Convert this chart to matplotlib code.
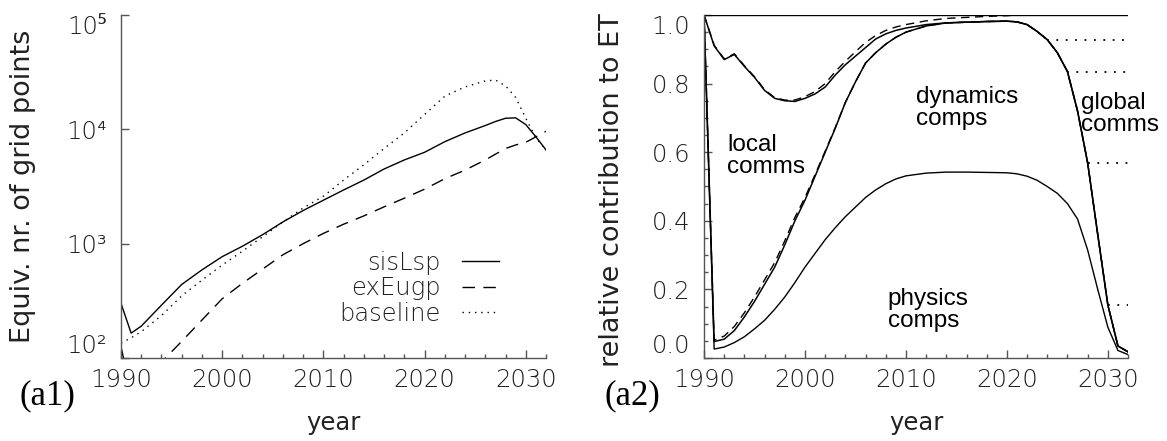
import matplotlib
matplotlib.use('Agg')
import matplotlib.pyplot as plt
from matplotlib.ticker import MultipleLocator, NullLocator

plt.rcParams['font.family'] = ['DejaVu Sans', 'Noto Sans', 'Liberation Sans']
plt.rcParams['font.weight'] = 'light'

# ---- panel (a1): equivalent number of grid points ----
yr_sis = [1990, 1991, 1992, 1994, 1996, 1998, 2000, 2002, 2004, 2006, 2008, 2010, 2012,
          2014, 2016, 2018, 2020, 2022, 2024, 2026, 2027, 2028, 2029, 2030, 2031, 2032]
sisLsp = [300, 165, 190, 290, 440, 590, 770, 950, 1200, 1550, 1950, 2400, 2950,
          3600, 4500, 5400, 6300, 7800, 9300, 10800, 11700, 12500, 12600, 11000, 8600, 6600]

yr_ex = [1990, 1991, 1992, 1994, 1996, 1998, 2000, 2002, 2004, 2006, 2008, 2010, 2012,
         2014, 2016, 2018, 2020, 2022, 2024, 2026, 2028, 2029, 2030, 2031, 2032]
exEugp = [125, 50, 60, 92, 140, 215, 330, 450, 600, 800, 1000, 1230, 1480,
          1750, 2100, 2500, 3000, 3700, 4400, 5400, 6800, 7300, 7700, 8600, 9600]

yr_base = [1990, 1991, 1992, 1994, 1996, 1998, 2000, 2002, 2004, 2006, 2008, 2010, 2012,
           2014, 2016, 2018, 2020, 2022, 2024, 2026, 2027, 2028, 2029, 2030, 2031, 2032]
baseline = [135, 150, 170, 235, 350, 480, 650, 860, 1150, 1550, 2050, 2600, 3600,
            4900, 6800, 9300, 13500, 19500, 23500, 26500, 27000, 24000, 19000, 12500, 8400, 6600]

# ---- panel (a2): cumulative relative contribution to ET ----
yr_rel = [1990, 1991, 1992, 1993, 1994, 1995, 1996, 1997, 1998, 1999, 2000, 2001, 2002,
          2003, 2004, 2005, 2006, 2007, 2008, 2009, 2010, 2012, 2014, 2016, 2018, 2020,
          2021, 2022, 2023, 2024, 2025, 2026, 2027, 2028, 2029, 2030, 2031, 2032]
local_top = [1.0, 0.91, 0.87, 0.885, 0.85, 0.818, 0.78, 0.757, 0.75, 0.748, 0.757, 0.77, 0.79,
             0.825, 0.855, 0.88, 0.905, 0.93, 0.945, 0.955, 0.962, 0.972, 0.977, 0.979, 0.981, 0.982,
             0.98, 0.972, 0.952, 0.928, 0.89, 0.835, 0.72, 0.569, 0.36, 0.155, 0.035, 0.018]
dyn_top = [1.0, 0.048, 0.055, 0.08, 0.12, 0.165, 0.215, 0.265, 0.33, 0.4, 0.46, 0.53, 0.6,
           0.67, 0.745, 0.805, 0.86, 0.89, 0.915, 0.935, 0.95, 0.968, 0.977, 0.979, 0.981, 0.982,
           0.98, 0.972, 0.952, 0.928, 0.89, 0.835, 0.72, 0.569, 0.36, 0.155, 0.035, 0.018]
phys_top = [1.0, 0.026, 0.032, 0.045, 0.062, 0.085, 0.11, 0.142, 0.178, 0.22, 0.265, 0.305, 0.345,
            0.38, 0.412, 0.44, 0.468, 0.49, 0.508, 0.522, 0.531, 0.539, 0.542, 0.542, 0.541, 0.54,
            0.537, 0.53, 0.518, 0.5, 0.48, 0.45, 0.405, 0.315, 0.2, 0.09, 0.022, 0.01]
local_top_ex = [1.0, 0.912, 0.872, 0.887, 0.852, 0.82, 0.782, 0.759, 0.752, 0.752, 0.762, 0.777, 0.8,
                0.835, 0.865, 0.893, 0.92, 0.94, 0.955, 0.965, 0.972, 0.983, 0.99, 0.993, 0.996, 0.998,
                1.0, 1.0, 1.0, 1.0, 1.0, 1.0, 1.0, 1.0, 1.0, 1.0, 1.0, 1.0]
dyn_top_ex = [1.0, 0.052, 0.064, 0.092, 0.132, 0.178, 0.228, 0.278, 0.342, 0.41, 0.468, 0.535, 0.603,
              0.672, 0.745, 0.805, 0.86, 0.89, 0.915, 0.935, 0.95, 0.968, 0.977, 0.979, 0.981, 0.982,
              0.98, 0.972, 0.952, 0.928, 0.89, 0.835, 0.72, 0.569, 0.36, 0.155, 0.035, 0.018]
total_yr = [1990, 2032]
total = [1.0, 1.0]
glob_years = [2024, 2026, 2028, 2030]

axcol = '#555555'
txtcol = '#222222'
lab_font = ['Liberation Sans', 'DejaVu Sans']

fig = plt.figure(figsize=(11.67, 4.41), dpi=100)
ax1 = fig.add_axes([0.1037, 0.1882, 0.3642, 0.7778])
ax2 = fig.add_axes([0.6033, 0.1882, 0.3633, 0.7778])


def style_axes(ax):
    for s in ['top', 'right']:
        ax.spines[s].set_visible(False)
    for s in ['left', 'bottom']:
        ax.spines[s].set_color(axcol)
        ax.spines[s].set_linewidth(1.0)
    ax.tick_params(which='both', direction='in', color=axcol, labelsize=17.5, labelcolor=txtcol, width=1.0)
    ax.tick_params(which='major', length=6)
    ax.tick_params(which='minor', length=3)
    ax.tick_params(axis='x', which='major', pad=7)
    ax.tick_params(axis='y', which='major', pad=10)
    ax.set_xlim(1990, 2032)
    ax.xaxis.set_major_locator(MultipleLocator(10))
    ax.xaxis.set_minor_locator(MultipleLocator(2))
    ax.set_xlabel('year', fontsize=17.5, color=txtcol, va='center')
    ax.xaxis.set_label_coords(0.5, -0.19)


# (a1)
ax1.plot(yr_sis, sisLsp, color='black', lw=1.0, label='sisLsp')
ax1.plot(yr_ex, exEugp, color='black', lw=1.0, dashes=(9, 6), label='exEugp')
ax1.plot(yr_base, baseline, color='black', lw=1.0, dashes=(1, 3.5), label='baseline')
ax1.set_yscale('log')
ax1.set_ylim(100, 1e5)
style_axes(ax1)
ax1.set_yticks([1e2, 1e3, 1e4, 1e5], ['10²', '10³', '10⁴', '10⁵'])
ax1.yaxis.set_minor_locator(NullLocator())
ylabs = ax1.get_yticklabels()
ylabs[0].set_va('bottom')
ylabs[-1].set_va('top')
ax1.set_ylabel('Equiv. nr. of grid points', fontsize=19.5, color=txtcol, va='center')
ax1.yaxis.set_label_coords(-0.2306, 0.5)
leg = ax1.legend(loc='center right', bbox_to_anchor=(0.889, 0.203), frameon=False,
                 markerfirst=False, fontsize=17.5, handlelength=1.5, handletextpad=0.9,
                 labelspacing=0.06, borderpad=0, borderaxespad=0)
for t in leg.get_texts():
    t.set_color(txtcol)

# (a2)
ax2.plot(total_yr, total, color='black', lw=1.0)
ax2.plot(yr_rel, local_top_ex, color='black', lw=1.0, dashes=(6, 4))
ax2.plot(yr_rel, dyn_top_ex, color='black', lw=1.0, dashes=(6, 4))
ax2.plot(yr_rel, local_top, color='black', lw=1.1)
ax2.plot(yr_rel, dyn_top, color='black', lw=1.1)
ax2.plot(yr_rel, phys_top, color='black', lw=1.0)
for gy in glob_years:
    lvl = dyn_top[yr_rel.index(gy)]
    ax2.plot([gy, total_yr[-1]], [lvl, lvl], color='black', lw=1.3, dashes=(1, 4.2))
ax2.set_ylim(0, 1.0)
style_axes(ax2)
ax2.set_yticks([0.0, 0.2, 0.4, 0.6, 0.8, 1.0], ['0.0', '0.2', '0.4', '0.6', '0.8', '1.0'])
ax2.yaxis.set_minor_locator(MultipleLocator(0.05))
ylabs = ax2.get_yticklabels()
ylabs[0].set_va('bottom')
ylabs[-1].set_va('top')
ax2.set_ylabel('relative contribution to ET', fontsize=19.5, color=txtcol, va='center')
ax2.yaxis.set_label_coords(-0.217, 0.49)

ax2.text(1992.3, 0.59, 'local\ncomms', family=lab_font, fontsize=17.5, fontweight='normal',
         ha='left', va='center', linespacing=1.0)
ax2.text(2011.0, 0.73, 'dynamics\ncomps', family=lab_font, fontsize=17.5, fontweight='normal',
         ha='left', va='center', linespacing=1.0)
ax2.text(2027.3, 0.71, 'global\ncomms', family=lab_font, fontsize=17.5, fontweight='normal',
         ha='left', va='center', linespacing=1.0)
ax2.text(2008.2, 0.14, 'physics\ncomps', family=lab_font, fontsize=17.5, fontweight='normal',
         ha='left', va='center', linespacing=1.0)

serif = ['Liberation Serif', 'DejaVu Serif']
fig.text(0.017, 0.102, '(a1)', family=serif, fontsize=25, fontweight='normal', ha='left', va='center')
fig.text(0.518, 0.102, '(a2)', family=serif, fontsize=25, fontweight='normal', ha='left', va='center')

fig.savefig('out.png', dpi=100)
